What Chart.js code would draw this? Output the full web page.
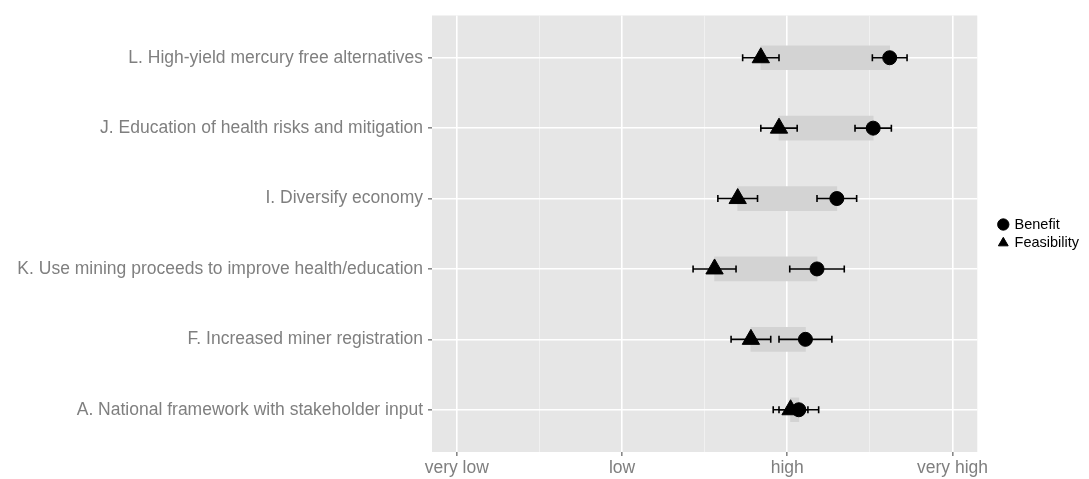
<!DOCTYPE html>
<html>
<head>
<meta charset="utf-8">
<script src="https://cdn.jsdelivr.net/npm/chart.js@4/dist/chart.umd.min.js"></script>
<style>
  html, body { margin: 0; padding: 0; background: #fff; }
  #wrap { width: 1089px; height: 479px; }
</style>
</head>
<body>
<div id="wrap"><canvas id="myChart" width="1089" height="479"></canvas></div>
<script>
// categories listed bottom to top (ggplot puts the first level at the bottom)
const categories = [
  'A. National framework with stakeholder input',
  'F. Increased miner registration',
  'K. Use mining proceeds to improve health/education',
  'I. Diversify economy',
  'J. Education of health risks and mitigation',
  'L. High-yield mercury free alternatives'
];
const benefit = [3.07, 3.11, 3.18, 3.30, 3.52, 3.62];
const benefitErr = [0.12, 0.16, 0.165, 0.12, 0.11, 0.105];
const feasibility = [3.02, 2.78, 2.56, 2.70, 2.95, 2.84];
const feasibilityErr = [0.105, 0.12, 0.13, 0.12, 0.11, 0.11];
const tickLabels = ['very low', 'low', 'high', 'very high'];

const fontFamily = '"Liberation Sans", Arial, sans-serif';
const labelFont = { family: fontFamily, size: 17.5 };

// grey panel like ggplot
const panelBg = {
  id: 'panelBg',
  beforeDraw(chart) {
    const a = chart.chartArea;
    const c = chart.ctx;
    c.save();
    c.fillStyle = '#e6e6e6';
    c.fillRect(a.left, a.top, a.right - a.left, a.bottom - a.top);
    c.restore();
  }
};

// error bars, drawn on top of the range bars but under the points
const errorBars = {
  id: 'errorBars',
  afterDatasetDraw(chart, args) {
    if (args.index !== 0) return;
    const x = chart.scales.x, y = chart.scales.y, c = chart.ctx;
    c.save();
    c.strokeStyle = '#000';
    c.lineWidth = 1.6;
    const draw = (vals, errs) => {
      vals.forEach((v, i) => {
        const py = y.getPixelForValue(i + 1);
        const x0 = x.getPixelForValue(v - errs[i]);
        const x1 = x.getPixelForValue(v + errs[i]);
        c.beginPath();
        c.moveTo(x0, py); c.lineTo(x1, py);
        c.moveTo(x0, py - 3.5); c.lineTo(x0, py + 3.5);
        c.moveTo(x1, py - 3.5); c.lineTo(x1, py + 3.5);
        c.stroke();
      });
    };
    draw(feasibility, feasibilityErr);
    draw(benefit, benefitErr);
    c.restore();
  }
};

var ctx = document.getElementById('myChart').getContext('2d');
var chart = new Chart(ctx, {
  data: {
    datasets: [
      {
        type: 'bar',
        label: 'range',
        data: categories.map((_, i) => ({ y: i + 1, x: [feasibility[i], benefit[i]] })),
        backgroundColor: '#d3d3d3',
        barThickness: 24,
        order: 3
      },
      {
        type: 'scatter',
        label: 'Benefit',
        data: benefit.map((v, i) => ({ x: v, y: i + 1 })),
        pointStyle: 'circle',
        pointRadius: 7,
        backgroundColor: '#000',
        borderColor: '#000',
        order: 0
      },
      {
        type: 'scatter',
        label: 'Feasibility',
        data: feasibility.map((v, i) => ({ x: v, y: i + 1 })),
        pointStyle: 'triangle',
        pointRadius: 10,
        backgroundColor: '#000',
        borderColor: '#000',
        order: 1
      }
    ]
  },
  options: {
    indexAxis: 'y',
    responsive: false,
    animation: false,
    layout: { padding: { top: 13, right: 0 } },
    plugins: {
      tooltip: { enabled: false },
      legend: {
        position: 'right',
        fullSize: false,
        labels: {
          filter: item => item.text !== 'range',
          usePointStyle: true,
          boxWidth: 8,
          boxHeight: 8,
          padding: 4,
          color: '#000',
          font: { family: fontFamily, size: 14.5 }
        }
      }
    },
    scales: {
      x: {
        type: 'linear',
        min: 0.85,
        max: 4.15,
        afterBuildTicks: s => {
          s.ticks = [1, 1.5, 2, 2.5, 3, 3.5, 4].map(v => ({ value: v }));
        },
        afterFit: s => { s.height = 27; },
        border: { display: false },
        grid: {
          color: c => Number.isInteger(c.tick.value) ? '#ffffff' : '#f4f4f4',
          lineWidth: c => Number.isInteger(c.tick.value) ? 1.6 : 0.8,
          tickColor: c => Number.isInteger(c.tick.value) ? '#888' : 'rgba(0,0,0,0)',
          tickLength: 4
        },
        ticks: {
          autoSkip: false,
          maxRotation: 0,
          padding: 2,
          color: '#7f7f7f',
          font: labelFont,
          callback: v => Number.isInteger(v) ? tickLabels[v - 1] : ''
        }
      },
      y: {
        type: 'linear',
        min: 0.4,
        max: 6.6,
        offset: false,
        afterBuildTicks: s => {
          s.ticks = categories.map((_, i) => ({ value: i + 1 }));
        },
        afterFit: s => { s.width = 432; },
        border: { display: false },
        grid: {
          offset: false,
          color: '#ffffff',
          lineWidth: 1.6,
          tickColor: '#888',
          tickLength: 4
        },
        ticks: {
          autoSkip: false,
          padding: 5,
          color: '#7f7f7f',
          font: labelFont,
          callback: v => categories[v - 1]
        }
      },
      // empty axis that only keeps a gap between the panel and the legend
      gap: {
        type: 'linear',
        position: 'right',
        display: true,
        grid: { display: false },
        ticks: { display: false },
        border: { display: false },
        afterFit: s => { s.width = 18; }
      }
    }
  },
  plugins: [panelBg, errorBars]
});
</script>
</body>
</html>
